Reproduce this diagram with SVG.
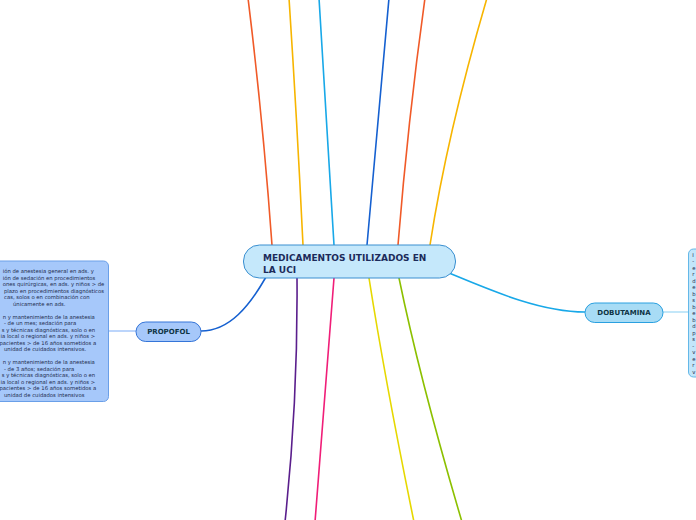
<svg xmlns="http://www.w3.org/2000/svg" width="696" height="520" viewBox="0 0 696 520">
<style>
.c{fill:none;stroke-width:1.6;stroke-linecap:round}
.lt{font-family:"DejaVu Sans",Verdana,sans-serif;font-size:5.3px;fill:#1c2a4c}
.nt{font-family:"DejaVu Sans",Verdana,sans-serif;font-weight:bold;fill:#0e3444}
</style>
<rect width="696" height="520" fill="#ffffff"/>
<g id="connectors">
<path class="c" stroke="#f05a28" d="M272,245 Q263,120 248,-2"/>
<path class="c" stroke="#f7b500" d="M303,245 Q297,120 289,-2"/>
<path class="c" stroke="#18a8e8" d="M334,245 L319,-2"/>
<path class="c" stroke="#1560d0" d="M367,245 L389,-2"/>
<path class="c" stroke="#f05a28" d="M398,245 Q408,120 425,-2"/>
<path class="c" stroke="#f7b500" d="M430,245 C440,180 460,90 487,-2"/>
<path class="c" stroke="#5a1e8c" d="M297,278 Q298,400 285,522"/>
<path class="c" stroke="#f01e78" d="M334,278 L315,522"/>
<path class="c" stroke="#e6d800" d="M369,278 Q385,380 414,522"/>
<path class="c" stroke="#8cc000" d="M399,278 Q420,380 462,522"/>
<path class="c" stroke="#1560d0" d="M266,277 C250,305 230,331 201,331"/>
<path class="c" stroke="#18a8e8" d="M449,273 C490,290 540,312 585,312"/>
<path class="c" stroke="#a6c8fa" stroke-width="2" d="M108,331 L136,331"/>
<path class="c" stroke="#b0e0f8" stroke-width="2" d="M663,312 L689,312"/>
</g>
<g id="central">
<rect x="243.5" y="245" width="212" height="33" rx="16" fill="#c5e8fb" stroke="#3a8fd0" stroke-width="1"/>
<text class="nt" font-size="9" x="263" y="261" style="fill:#1c2b5a">MEDICAMENTOS UTILIZADOS EN</text>
<text class="nt" font-size="9" x="263" y="272.5" style="fill:#1c2b5a">LA UCI</text>
</g>
<g id="propofol">
<rect x="136" y="322" width="65" height="19.5" rx="9.75" fill="#a6c8fa" stroke="#3575d8" stroke-width="1"/>
<text class="nt" font-size="7" x="168.5" y="334.3" text-anchor="middle">PROPOFOL</text>
</g>
<g id="propofol-note">
<rect x="-6" y="261" width="114.5" height="140.5" rx="5" fill="#a6c8fa" stroke="#6a9fe8" stroke-width="1"/>
<text class="lt" x="2.7" y="273">ión de anestesia general en ads. y</text>
<text class="lt" x="2.7" y="279.5">ión de sedación en procedimientos</text>
<text class="lt" x="2.7" y="286">ones quirúrgicas, en ads. y niños &gt; de</text>
<text class="lt" x="4" y="292.5">plazo en procedimientos diagnósticos</text>
<text class="lt" x="4" y="299">cas, solos o en combinación con</text>
<text class="lt" x="13" y="305.5">únicamente en ads.</text>
<text class="lt" x="2.7" y="318.5">n y mantenimiento de la anestesia</text>
<text class="lt" x="4" y="325">- de un mes; sedación para</text>
<text class="lt" x="1.7" y="331.5">s y técnicas diagnósticas, solo o en</text>
<text class="lt" x="0.5" y="338">ia local o regional en ads. y niños &gt;</text>
<text class="lt" x="-0.5" y="344.5">pacientes &gt; de 16 años sometidos a</text>
<text class="lt" x="4" y="351">unidad de cuidados intensivos.</text>
<text class="lt" x="2.7" y="364">n y mantenimiento de la anestesia</text>
<text class="lt" x="4" y="370.5">- de 3 años; sedación para</text>
<text class="lt" x="1.7" y="377">s y técnicas diagnósticas, solo o en</text>
<text class="lt" x="0.5" y="383.5">ia local o regional en ads. y niños &gt;</text>
<text class="lt" x="-0.5" y="390">pacientes &gt; de 16 años sometidos a</text>
<text class="lt" x="4" y="396.5">unidad de cuidados intensivos</text>
</g>
<g id="dobutamina">
<rect x="585" y="303" width="78" height="19.5" rx="9.75" fill="#a8dcf5" stroke="#2aa0e0" stroke-width="1"/>
<text class="nt" font-size="7" x="624" y="315.3" text-anchor="middle">DOBUTAMINA</text>
</g>
<g id="dobutamina-note">
<rect x="688.5" y="249" width="30" height="128" rx="5" fill="#c2e6fa" stroke="#64b8e8" stroke-width="1"/>
<text class="lt" x="692.2" y="256.5">I</text>
<text class="lt" x="692.2" y="263">-</text>
<text class="lt" x="692.2" y="269.5">e</text>
<text class="lt" x="692.2" y="276">r</text>
<text class="lt" x="692.2" y="282.5">d</text>
<text class="lt" x="692.2" y="289">e</text>
<text class="lt" x="692.2" y="295.5">b</text>
<text class="lt" x="692.2" y="302">s</text>
<text class="lt" x="692.2" y="308.5">b</text>
<text class="lt" x="692.2" y="315">e</text>
<text class="lt" x="692.2" y="321.5">b</text>
<text class="lt" x="692.2" y="328">d</text>
<text class="lt" x="692.2" y="334.5">p</text>
<text class="lt" x="692.2" y="341">s</text>
<text class="lt" x="692.2" y="347.5">-</text>
<text class="lt" x="692.2" y="354">v</text>
<text class="lt" x="692.2" y="360.5">e</text>
<text class="lt" x="692.2" y="367">r</text>
<text class="lt" x="692.2" y="373.5">v</text>
</g>
</svg>
